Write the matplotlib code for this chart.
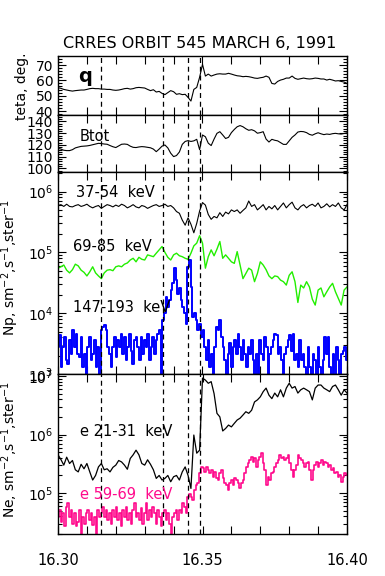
import numpy as np
import matplotlib
matplotlib.use("Agg")
import matplotlib.pyplot as plt
from matplotlib.ticker import MultipleLocator, FixedLocator, LogLocator, NullFormatter

# time grids (UT hours), instrument sampling
t101 = np.linspace(16.30, 16.40, 101)
t174 = np.linspace(16.30, 16.40, 174)

# event markers
events = [16.3149, 16.3364, 16.3449, 16.3492]

teta = [55.2, 54.8, 54.1, 53.7, 53.3, 53.0, 53.3, 53.5, 53.7, 53.7,
        54.1, 54.6, 54.8, 54.6, 54.6, 54.3, 54.3, 54.1, 54.1, 53.7,
        53.5, 53.7, 54.1, 54.6, 54.8, 54.3, 54.6, 55.2, 55.4, 55.2,
        55.0, 54.1, 53.3, 53.9, 52.4, 52.8, 51.5, 50.7, 52.0, 53.3,
        52.6, 50.9, 51.3, 50.7, 50.9, 48.9, 46.5, 54.1, 55.4, 62.0,
        70.5, 62.8, 64.1, 62.8, 63.5, 64.1, 64.3, 64.1, 64.1, 64.6,
        64.1, 63.5, 63.0, 62.8, 62.4, 62.6, 62.4, 62.0, 61.5, 61.3,
        61.7, 62.0, 62.8, 62.0, 58.0, 57.6, 59.3, 60.2, 60.7, 61.5,
        61.5, 62.8, 61.3, 60.7, 61.1, 61.5, 61.1, 60.9, 61.1, 61.5,
        61.3, 60.9, 60.9, 60.2, 60.7, 60.2, 59.6, 59.8, 59.3, 58.9, 58.0]

btot = [117.2, 116.5, 115.5, 115.2, 115.2, 116.0, 117.5, 118.2, 118.8, 119.0,
        119.2, 119.6, 120.2, 120.8, 121.4, 121.2, 120.8, 120.6, 119.5, 118.5,
        117.8, 119.2, 120.6, 120.8, 120.5, 119.0, 118.0, 117.8, 118.3, 118.6,
        118.4, 118.0, 117.6, 116.5, 114.3, 116.5, 119.0, 120.0, 117.5, 113.0,
        110.1, 111.0, 114.0, 120.5, 123.0, 123.7, 123.0, 123.5, 124.8, 116.0,
        128.5, 127.0, 121.5, 119.5, 125.0, 129.9, 131.3, 128.5, 125.5, 126.5,
        130.5, 133.2, 135.5, 136.5, 135.5, 133.8, 132.5, 133.0, 132.0, 130.0,
        130.5, 131.3, 125.0, 122.5, 124.8, 124.0, 123.5, 122.0, 120.5, 120.5,
        123.5, 126.5, 128.5, 131.0, 131.5, 131.3, 130.5, 129.0, 128.3, 129.5,
        130.4, 129.5, 128.8, 129.3, 129.0, 129.6, 129.9, 129.5, 129.3, 129.8, 130.4]

# protons 37-54 keV (x1e5)
p37 = [5.9, 6.1, 5.7, 6.2, 5.7, 5.6, 5.9, 6.1, 5.7, 5.9,
       6.2, 5.7, 5.4, 5.7, 5.9, 5.3, 5.7, 6.1, 5.9, 5.6,
       6.0, 5.7, 6.2, 5.9, 5.4, 5.7, 6.1, 5.6, 5.4, 5.9,
       5.7, 5.3, 5.6, 5.9, 6.1, 5.7, 5.9, 6.2, 5.7, 5.9,
       5.4, 4.7, 4.4, 3.4, 2.8, 3.7, 2.9, 2.1, 3.0, 4.8,
       6.6, 6.0, 4.2, 3.5, 3.9, 3.7, 4.5, 3.9, 4.6, 4.3,
       5.0, 4.7, 5.0, 4.4, 4.9, 5.4, 7.0, 5.7, 6.1, 5.0,
       5.5, 6.1, 5.0, 5.7, 5.2, 5.9, 5.0, 5.7, 6.5, 5.4,
       6.1, 6.7, 5.4, 5.0, 5.7, 6.1, 5.4, 5.9, 6.2, 5.7,
       6.5, 5.4, 5.7, 6.3, 5.6, 6.1, 5.7, 6.5, 5.4, 5.0, 6.1]

# protons 69-85 keV (x1e5)
p69 = [0.55, 0.58, 0.62, 0.51, 0.46, 0.52, 0.64, 0.60, 0.51, 0.47,
       0.41, 0.48, 0.58, 0.46, 0.41, 0.37, 0.46, 0.51, 0.52, 0.50,
       0.58, 0.60, 0.58, 0.64, 0.67, 0.75, 0.80, 0.70, 0.83, 0.77,
       0.75, 0.91, 0.88, 0.85, 0.97, 1.10, 1.25, 1.00, 0.83, 0.75,
       0.91, 0.97, 0.88, 0.85, 0.80, 0.77, 0.97, 1.28, 1.42, 1.88,
       1.42, 0.55, 0.85, 1.10, 0.88, 1.13, 1.51, 0.80, 0.91, 0.80,
       0.70, 0.66, 1.03, 0.62, 0.37, 0.45, 0.55, 0.51, 0.33, 0.45,
       0.70, 0.62, 0.52, 0.41, 0.37, 0.41, 0.40, 0.35, 0.33, 0.29,
       0.42, 0.48, 0.33, 0.15, 0.29, 0.26, 0.33, 0.27, 0.17, 0.136,
       0.24, 0.26, 0.186, 0.225, 0.27, 0.31, 0.225, 0.175, 0.136, 0.24, 0.27]

# protons 147-193 keV (x1e3)
p147 = [2.8, 4.3, 1.30, 2.8, 4.1, 1.67, 1.47, 3.6, 2.15, 5.2,
        2.8, 4.6, 2.15, 1.9, 4.1, 1.30, 2.15, 0.8, 2.8, 4.1,
        1.67, 2.15, 3.6, 1.30, 2.8, 0.8, 5.2, 5.9, 6.3, 5.2,
        2.8, 2.15, 1.30, 2.8, 4.1, 1.9, 3.6, 2.8, 4.6, 2.15,
        4.1, 1.67, 2.8, 4.6, 2.4, 1.47, 3.6, 4.1, 2.8, 1.67,
        4.1, 2.15, 3.6, 2.8, 4.6, 1.67, 2.8, 4.1, 2.15, 3.6,
        4.6, 5.2, 0.8, 7.7, 9.9, 18.6, 12.7, 16.4, 24, 31,
        55, 35, 21, 26, 16.4, 12.7, 9.9, 6.7, 58, 75,
        27, 8.7, 9.9, 7.7, 5.2, 6.7, 4.1, 5.2, 2.8, 1.67,
        3.6, 1.30, 2.15, 0.8, 2.8, 5.9, 5.2, 7.7, 4.1, 2.8,
        1.67, 0.8, 2.15, 3.2, 1.30, 2.8, 3.6, 2.15, 4.6, 2.8,
        1.67, 3.6, 2.15, 1.30, 2.8, 2.15, 3.6, 1.67, 0.8, 2.15,
        0.8, 3.6, 2.15, 1.67, 4.1, 2.8, 0.8, 2.15, 2.8, 3.6,
        4.6, 4.3, 2.15, 2.8, 1.67, 0.8, 2.15, 2.8, 3.6, 4.3,
        2.4, 4.6, 1.67, 2.15, 1.30, 3.6, 1.67, 2.15, 1.30, 0.8,
        2.8, 1.30, 0.8, 2.15, 1.67, 0.8, 2.8, 1.30, 0.8, 1.67,
        4.1, 2.15, 4.1, 1.30, 0.8, 2.15, 0.8, 2.8, 1.67, 0.8,
        2.15, 2.4, 2.8, 1.67]

# electrons 21-31 keV (x1e5)
e21 = [4.5, 3.75, 3.0, 4.1, 3.2, 3.6, 2.5, 2.3, 3.1, 2.6,
       3.2, 2.3, 1.67, 2.0, 2.8, 3.2, 2.5, 2.6, 2.3, 2.75,
       3.0, 3.6, 3.4, 3.0, 2.55, 3.9, 4.5, 5.4, 4.5, 3.2,
       3.0, 3.7, 3.1, 2.5, 1.78, 2.0, 1.67, 1.78, 2.0, 1.56,
       1.9, 2.0, 1.67, 2.3, 2.8, 2.0, 1.2, 9.8, 4.8, 5.4,
       92, 85, 75, 80, 50, 23, 20, 11.5, 12.7, 14.5,
       13.5, 15.5, 17.7, 19, 21.5, 24.5, 23, 26, 36, 39,
       44, 54, 62, 47, 41, 51, 44, 58, 44, 62,
       75, 62, 66, 51, 58, 62, 58, 54, 39, 62,
       70, 70, 62, 58, 54, 66, 70, 58, 47, 58, 51]

# electrons 59-69 keV (x1e5)
e59 = [0.39, 0.51, 0.32, 0.45, 0.27, 0.58, 0.67, 0.39, 0.51, 0.30,
       0.45, 0.27, 0.32, 0.51, 0.19, 0.39, 0.30, 0.45, 0.51, 0.345,
       0.45, 0.29, 0.39, 0.19, 0.51, 0.39, 0.45, 0.58, 0.39, 0.51,
       0.345, 0.45, 0.30, 0.51, 0.39, 0.58, 0.345, 0.45, 0.27, 0.51,
       0.39, 0.58, 0.345, 0.45, 0.30, 0.51, 0.67, 0.39, 0.45, 0.345,
       0.55, 0.30, 0.45, 0.67, 0.345, 0.51, 0.39, 0.58, 0.45, 0.30,
       0.51, 0.39, 0.27, 0.45, 0.51, 0.345, 0.45, 0.30, 0.19, 0.39,
       0.45, 0.51, 0.345, 0.51, 0.45, 0.67, 0.58, 0.45, 0.86, 0.98,
       0.86, 0.76, 1.12, 1.37, 1.46, 2.17, 2.82, 2.64, 2.32, 2.82,
       2.47, 2.17, 2.47, 1.90, 2.32, 1.78, 1.67, 2.17, 2.47, 1.78,
       1.46, 1.37, 1.12, 1.46, 1.67, 1.37, 1.78, 1.67, 1.46, 1.2,
       1.46, 1.67, 2.17, 2.82, 3.22, 3.67, 4.18, 3.43, 3.9, 2.82,
       3.67, 4.18, 4.8, 3.22, 2.47, 1.37, 1.90, 1.67, 2.17, 2.32,
       2.82, 3.22, 3.67, 4.47, 3.9, 4.18, 3.67, 3.9, 4.47, 3.22,
       2.47, 1.90, 2.47, 3.01, 4.47, 3.9, 3.67, 3.22, 2.82, 3.22,
       3.43, 2.47, 1.67, 2.47, 3.01, 3.43, 2.82, 3.22, 3.67, 3.01,
       3.43, 3.22, 2.82, 3.01, 2.47, 2.64, 2.17, 2.32, 1.90, 2.03,
       1.56, 1.90, 2.17, 2.03]

green = "#22ee00"
blue = "#0000ff"
pink = "#ff0a8c"

fig = plt.figure(figsize=(3.85, 5.76), dpi=100)
L, W = 58 / 385, 289 / 385

def box(top, bottom):
    return [L, 1 - bottom / 576, W, (bottom - top) / 576]

ax1 = fig.add_axes(box(56, 115))
ax2 = fig.add_axes(box(115, 172))
ax3 = fig.add_axes(box(172, 374))
ax4 = fig.add_axes(box(374, 534))
axes = [ax1, ax2, ax3, ax4]

ax1.plot(t101, teta, color="black", lw=0.8)
ax2.plot(t101, btot, color="black", lw=0.8)
ax3.plot(t101, np.array(p37) * 1e5, color="black", lw=0.8)
ax3.plot(t101, np.array(p69) * 1e5, color=green, lw=1.0)
ax3.plot(t174, np.array(p147) * 1e3, color=blue, lw=1.4, drawstyle="steps-mid")
ax4.plot(t101, np.array(e21) * 1e5, color="black", lw=0.9)
ax4.plot(t174, np.array(e59) * 1e5, color=pink, lw=1.2, drawstyle="steps-mid")

ax1.set_ylim(37.4, 75.9)
ax1.yaxis.set_major_locator(FixedLocator([40, 50, 60, 70]))
ax1.yaxis.set_minor_locator(MultipleLocator(2))
ax2.set_ylim(97, 145.5)
ax2.yaxis.set_major_locator(FixedLocator([100, 110, 120, 130, 140]))
ax2.yaxis.set_minor_locator(MultipleLocator(2))

ax3.set_yscale("log")
ax3.set_ylim(1e3, 2.1e6)
ax4.set_yscale("log")
ax4.set_ylim(2.0e4, 1.08e7)
for ax in (ax3, ax4):
    ax.yaxis.set_major_locator(LogLocator(base=10, numticks=10))
    ax.yaxis.set_minor_locator(LogLocator(base=10, subs=np.arange(2, 10), numticks=20))
    ax.yaxis.set_minor_formatter(NullFormatter())

for ax in axes:
    ax.set_xlim(16.30, 16.40)
    ax.xaxis.set_major_locator(MultipleLocator(0.01))
    ax.tick_params(which="both", direction="in", top=True, right=True,
                   labelsize=10, width=0.8)
    ax.tick_params(which="major", length=6)
    ax.tick_params(which="minor", length=3)
    ax.tick_params(axis="x", labelbottom=False)
    for s in ax.spines.values():
        s.set_linewidth(1.0)
    for t in events:
        ax.axvline(t, color="black", lw=0.9, ls=(0, (4, 3)))

ax4.tick_params(axis="x", labelbottom=True, pad=14, labelsize=10.5)
ax4.set_xticks([16.30, 16.31, 16.32, 16.33, 16.34, 16.35, 16.36, 16.37, 16.38, 16.39, 16.40])
ax4.set_xticklabels(["16.30", "", "", "", "", "16.35", "", "", "", "", "16.40"])

fs = 10.5
ax1.text(0.07, 0.66, "q", transform=ax1.transAxes, fontsize=14,
         fontweight="bold", va="center")
ax2.text(0.076, 0.62, "Btot", transform=ax2.transAxes, fontsize=fs, va="center")
ax3.text(0.062, 0.90, "37-54  keV", transform=ax3.transAxes, fontsize=fs, va="center")
ax3.text(0.052, 0.629, "69-85  keV", transform=ax3.transAxes, fontsize=fs, va="center")
ax3.text(0.052, 0.327, "147-193  keV", transform=ax3.transAxes, fontsize=fs, va="center")
ax4.text(0.076, 0.6375, "e 21-31  keV", transform=ax4.transAxes, fontsize=fs, va="center")
ax4.text(0.076, 0.244, "e 59-69  keV", transform=ax4.transAxes, fontsize=fs,
         va="center", color=pink)

fig.text(200 / 385, 1 - 43 / 576, "CRRES ORBIT 545 MARCH 6, 1991",
         ha="center", va="center", fontsize=11.5)
fig.text(22 / 385, 1 - 86 / 576, "teta, deg.", rotation=90,
         ha="center", va="center", fontsize=10)
fig.text(10 / 385, 1 - 268 / 576, r"Np, sm$^{-2}$,s$^{-1}$,ster$^{-1}$",
         rotation=90, ha="center", va="center", fontsize=10)
fig.text(10 / 385, 1 - 450 / 576, r"Ne, sm$^{-2}$,s$^{-1}$,ster$^{-1}$",
         rotation=90, ha="center", va="center", fontsize=10)

fig.savefig("out.png", dpi=100)
